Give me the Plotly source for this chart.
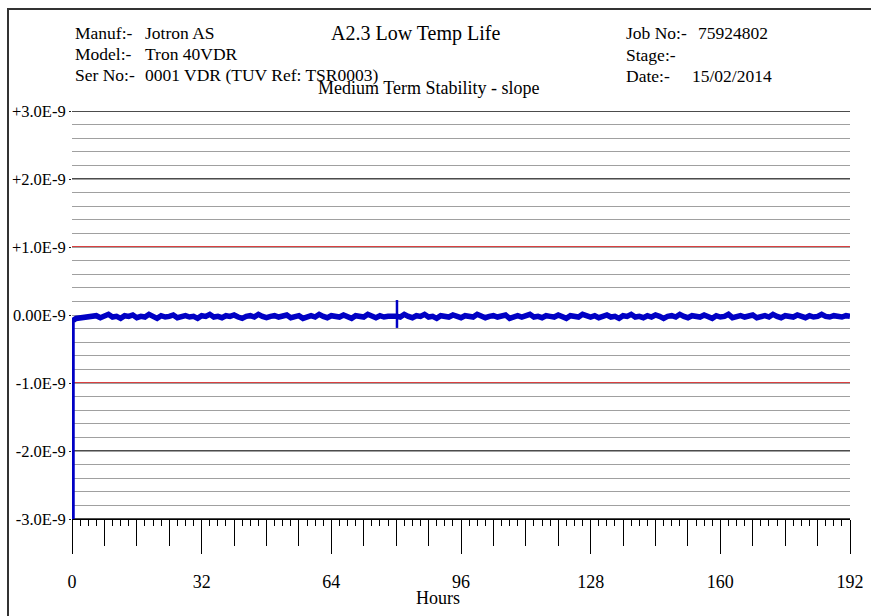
import plotly.graph_objects as go

# ---------------- data (values in units of 1E-9) ----------------
start_hours = [0, 0]
start_vals = [-3.0, -0.09]

hours = list(range(0, 193))
values = [
    -0.09, -0.05, -0.04, -0.03, -0.02, -0.03, -0.01, -0.04, -0.02, 0.01,
    -0.03, -0.02, -0.05, -0.01, -0.02, 0.00, -0.04, -0.02, -0.03, 0.01,
    -0.02, -0.05, -0.01, -0.03, -0.02, 0.00, -0.04, -0.02, -0.01, -0.03,
    -0.02, -0.05, -0.01, -0.02, 0.01, -0.03, -0.02, -0.04, -0.01, -0.02,
    0.00, -0.03, -0.05, -0.02, -0.01, -0.03, 0.01, -0.02, -0.04, -0.02,
    -0.01, -0.03, -0.02, 0.00, -0.04, -0.02, -0.01, -0.05, -0.02, -0.01,
    -0.03, 0.01, -0.02, -0.04, -0.01, -0.02, -0.03, 0.00, -0.02, -0.05,
    -0.01, -0.02, -0.03, 0.01, -0.02, -0.04, -0.01, -0.03, -0.02, -0.01,
    -0.02, -0.03, 0.01, -0.02, -0.04, -0.01, -0.02, 0.01, -0.03, -0.02,
    -0.05, -0.01, -0.02, -0.03, 0.00, -0.02, -0.04, -0.01, -0.02, -0.03,
    0.01, -0.02, -0.04, -0.02, -0.01, -0.03, -0.02, 0.00, -0.05, -0.02,
    -0.01, -0.03, -0.02, 0.01, -0.03, -0.02, -0.04, -0.01, -0.02, -0.03,
    0.00, -0.02, -0.05, -0.01, -0.02, -0.03, 0.01, -0.02, -0.03, -0.01,
    -0.04, -0.02, 0.00, -0.03, -0.02, -0.05, -0.01, -0.02, 0.01, -0.03,
    -0.02, -0.04, -0.01, -0.03, 0.00, -0.02, -0.05, -0.02, -0.01, -0.03,
    0.01, -0.02, -0.04, -0.01, -0.02, -0.03, 0.00, -0.02, -0.05, -0.01,
    -0.03, -0.02, 0.01, -0.04, -0.02, -0.01, -0.03, -0.02, 0.00, -0.04,
    -0.02, -0.01, -0.03, 0.01, -0.02, -0.04, -0.01, -0.02, -0.03, 0.00,
    -0.02, -0.04, -0.01, -0.03, -0.02, 0.01, -0.02, -0.03, -0.01, -0.02,
    -0.03, -0.01, -0.02,
]

spike_hours = [80.2, 80.2]
spike_vals = [0.22, -0.19]

x_range = [0, 192]
y_range = [-3, 3]
y_tickvals = [-3, -2, -1, 0, 1, 2, 3]
y_ticktext = ["-3.0E-9", "-2.0E-9", "-1.0E-9", "0.00E-9", "+1.0E-9", "+2.0E-9", "+3.0E-9"]
black_grid = [-3, -2, 2, 3]
red_grid = [-1, 1]

header_left = [("Manuf:-", "Jotron AS"), ("Model:-", "Tron 40VDR"),
               ("Ser No:-", "0001 VDR (TUV Ref: TSR0003)")]
header_right = [("Job No:-", "75924802"), ("Stage:-", ""), ("Date:-", "15/02/2014")]
title_text = "A2.3 Low Temp Life"
subtitle_text = "Medium Term Stability - slope"
x_title = "Hours"

# ---------------- layout geometry ----------------
W, H = 871, 616
L, R, T, B = 72, 21, 111, 97
PW, PH = W - L - R, H - T - B


def px(x):
    return (x - L) / PW


def py(y):
    return (H - B - y) / PH


FONT = "Liberation Serif"
BLUE = "#0000C4"

fig = go.Figure()
fig.add_trace(go.Scatter(x=start_hours + hours[1:], y=start_vals + values[1:],
                         mode="lines", line=dict(color=BLUE, width=5.5),
                         xaxis="x", yaxis="y", showlegend=False, hoverinfo="skip"))
fig.add_trace(go.Scatter(x=spike_hours, y=spike_vals, mode="lines",
                         line=dict(color=BLUE, width=2.5),
                         xaxis="x", yaxis="y", showlegend=False, hoverinfo="skip"))
# empty trace so the secondary (medium tick) x axis gets drawn
fig.add_trace(go.Scatter(x=[], y=[], xaxis="x2", yaxis="y", showlegend=False,
                         hoverinfo="skip"))

fig.update_layout(
    width=W, height=H, autosize=False,
    margin=dict(l=L, r=R, t=T, b=B, pad=0, autoexpand=False),
    paper_bgcolor="white", plot_bgcolor="white",
    font=dict(family=FONT, size=17, color="black"),
    showlegend=False,
    xaxis=dict(range=x_range, tick0=0, dtick=32, showgrid=False, zeroline=False,
               showline=True, linecolor="black", linewidth=1, automargin=False,
               ticks="outside", ticklen=34, tickwidth=1, tickcolor="black",
               ticklabelstandoff=12,
               tickfont=dict(family=FONT, size=18, color="black"),
               minor=dict(dtick=2, tick0=0, ticks="outside", ticklen=6,
                          tickwidth=1, tickcolor="black", showgrid=False),
               anchor="y"),
    xaxis2=dict(range=x_range, overlaying="x", anchor="y", side="bottom",
                tick0=0, dtick=8, ticks="outside", ticklen=26, tickwidth=1,
                tickcolor="black", showticklabels=False, showgrid=False,
                zeroline=False, showline=False, automargin=False),
    yaxis=dict(range=y_range, tickvals=y_tickvals, ticktext=y_ticktext,
               ticks="outside", ticklen=2, tickwidth=1, tickcolor="#222",
               showgrid=False, zeroline=False, showline=False, automargin=False,
               tickfont=dict(family=FONT, size=16.5, color="black"),
               minor=dict(dtick=0.2, tick0=0, showgrid=True, gridcolor="#a0a0a0",
                          gridwidth=1.2, ticks=""),
               anchor="x"),
)

# coloured major grid lines, positioned through the y axis
for v in black_grid:
    fig.add_shape(type="line", xref="x", yref="y", x0=x_range[0], x1=x_range[1],
                  y0=v, y1=v, line=dict(color="#111111", width=1.4), layer="below")
for v in red_grid:
    fig.add_shape(type="line", xref="x", yref="y", x0=x_range[0], x1=x_range[1],
                  y0=v, y1=v, line=dict(color="#CC0000", width=1.5), layer="below")

annos = []
rows_y = [33, 54, 75]
for (lab, val), yy in zip(header_left, rows_y):
    annos.append(dict(text=lab, x=px(73), y=py(yy)))
    annos.append(dict(text=val, x=px(143), y=py(yy)))
rows_yr = [33, 55, 76]
val_x = [696, 0, 690]
for (lab, val), yy, vx in zip(header_right, rows_yr, val_x):
    annos.append(dict(text=lab, x=px(624), y=py(yy)))
    if val:
        annos.append(dict(text=val, x=px(vx), y=py(yy)))
for a in annos:
    a.update(xref="paper", yref="paper", xanchor="left", yanchor="middle",
             showarrow=False, font=dict(family=FONT, size=17.5, color="black"))

annos.append(dict(text=title_text, x=px(415), y=py(33), xref="paper", yref="paper",
                  xanchor="center", yanchor="middle", showarrow=False,
                  font=dict(family=FONT, size=20, color="black")))
annos.append(dict(text=subtitle_text, x=px(428), y=py(88), xref="paper", yref="paper",
                  xanchor="center", yanchor="middle", showarrow=False,
                  font=dict(family=FONT, size=18, color="black")))
annos.append(dict(text=x_title, x=px(438), y=py(598), xref="paper", yref="paper",
                  xanchor="center", yanchor="middle", showarrow=False,
                  font=dict(family=FONT, size=18, color="black")))
fig.update_layout(annotations=annos)

fig.add_shape(type="rect", xref="paper", yref="paper",
              x0=px(8), x1=px(W + 20), y0=py(H + 20), y1=py(9),
              line=dict(color="#333333", width=2), fillcolor="rgba(0,0,0,0)",
              layer="above")

fig.write_html("out.html", config={"displayModeBar": False},
               post_script="document.body.style.margin='0';document.body.style.padding='0';")
